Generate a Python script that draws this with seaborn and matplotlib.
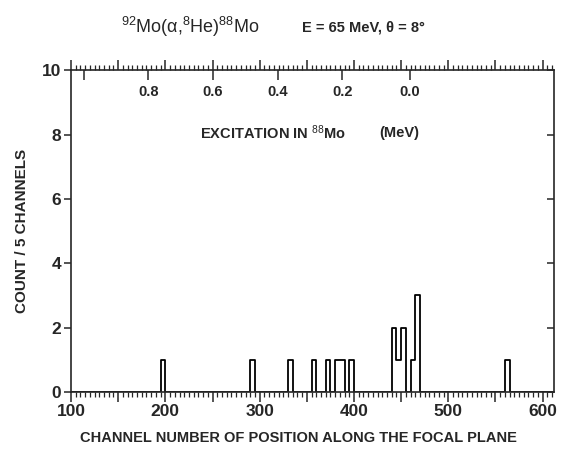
import numpy as np
import pandas as pd
import matplotlib
matplotlib.use("Agg")
import matplotlib.pyplot as plt
import seaborn as sns
from matplotlib.ticker import MultipleLocator, FuncFormatter

# counts per 5-channel bin (lower edge of each non-empty bin)
bin_start = [195, 290, 330, 355, 370, 380, 385, 395, 440, 445, 450, 460, 465, 560]
counts = [1, 1, 1, 1, 1, 1, 1, 1, 2, 1, 2, 1, 3, 1]

# excitation energy scale on top (channel position of each tick)
exc_energy = [1.0, 0.8, 0.6, 0.4, 0.2, 0.0]
exc_channel = [113.2, 182.1, 250.3, 319.3, 387.7, 459.3]
exc_labels = ["", "0.8", "0.6", "0.4", "0.2", "0.0"]

df = pd.DataFrame({"channel": [b + 2.5 for b in bin_start], "count": counts})

sns.set_style("ticks")
plt.rcParams["font.family"] = ["Liberation Sans", "DejaVu Sans"]
plt.rcParams["mathtext.fontset"] = "custom"
plt.rcParams["mathtext.rm"] = "Liberation Sans"
plt.rcParams["mathtext.it"] = "Liberation Sans:italic"
plt.rcParams["axes.linewidth"] = 1.2

fig = plt.figure(figsize=(5.64, 4.5), dpi=100)
ax = fig.add_axes([0.126, 0.129, 0.856, 0.715])

sns.histplot(data=df, x="channel", weights="count", binwidth=5, binrange=(100, 610),
             element="step", fill=False, color="black", linewidth=1.3, ax=ax)

# inward ticks on the right spine
axr = ax.twinx()
axr.set_ylim(0, 10)
axr.yaxis.set_major_locator(MultipleLocator(2))
axr.tick_params(axis="y", direction="in", length=5, width=1.1, labelright=False)

# excitation energy ticks pointing down from the top spine
axt = ax.twiny()
axt.set_xlim(100, 612)
axt.set_xticks(exc_channel)
axt.set_xticklabels(exc_labels)
axt.tick_params(axis="x", direction="in", length=7, width=1.1, labelsize=10.5, pad=-21)
for lab in axt.get_xticklabels():
    lab.set_fontweight("bold")
for a in (axr, axt):
    for s in a.spines.values():
        s.set_visible(False)

ax.set_xlim(100, 612)
ax.set_ylim(0, 10)
ax.xaxis.set_major_locator(MultipleLocator(50))
ax.xaxis.set_minor_locator(MultipleLocator(5))
ax.xaxis.set_major_formatter(FuncFormatter(lambda v, p: f"{int(v)}" if v % 100 == 0 else ""))
ax.yaxis.set_major_locator(MultipleLocator(2))
ax.tick_params(axis="x", which="major", direction="out", length=7, width=1.1,
               top=True, bottom=True, labeltop=False, labelsize=12.5, pad=2)
ax.tick_params(axis="x", which="minor", direction="out", length=3.5, width=0.9,
               top=True, bottom=True)
ax.tick_params(axis="y", which="major", direction="out", length=5, width=1.1,
               left=True, right=False, labelsize=12.5, pad=2)
for lab in ax.get_xticklabels() + ax.get_yticklabels():
    lab.set_fontweight("bold")

ax.set_xlabel("")
ax.set_ylabel("COUNT / 5 CHANNELS", fontsize=11, fontweight="bold", labelpad=9)

ax.text(237, 8.05, r"EXCITATION IN $^{88}$Mo", fontsize=10.5, fontweight="bold",
        ha="left", va="center")
ax.text(427, 8.05, "(MeV)", fontsize=10.5, fontweight="bold", ha="left", va="center")

fig.text(0.337, 0.94, r"$^{92}$Mo(α,$^{8}$He)$^{88}$Mo", fontsize=13,
         ha="center", va="center")
fig.text(0.645, 0.94, "E = 65 MeV, θ = 8°", fontsize=10.5, fontweight="bold",
         ha="center", va="center")
fig.text(0.53, 0.027, "CHANNEL NUMBER OF POSITION ALONG THE FOCAL PLANE",
         fontsize=10.5, fontweight="bold", ha="center", va="center")

fig.savefig("out.png", dpi=100)
